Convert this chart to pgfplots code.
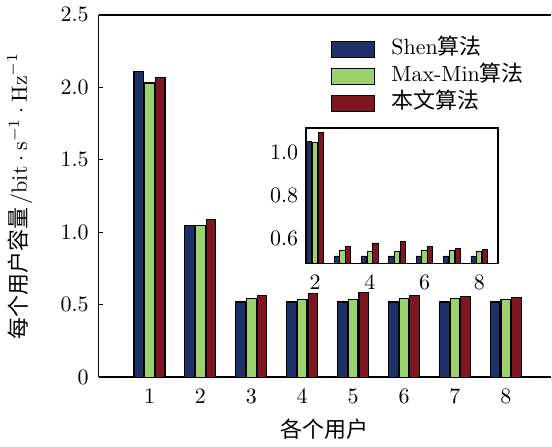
\documentclass[border=0pt]{standalone}
\usepackage{pgfplots}
\pgfplotsset{compat=1.18}
\usepackage{fontspec}
\newfontfamily\cjk{Noto Sans CJK SC}
\definecolor{cblue}{RGB}{30,48,104}
\definecolor{cgreen}{RGB}{156,210,110}
\definecolor{cred}{RGB}{125,22,32}
\begin{document}
\begin{tikzpicture}
\begin{axis}[
  name=main,
  scale only axis,
  width=206pt, height=165pt,
  xmin=0, xmax=8.89, ymin=0, ymax=2.5,
  axis x line=box, axis y line=left,
  axis line style={-, line width=0.8pt},
  tick align=inside,
  xtick={1,...,8},
  ytick={0,0.5,1,1.5,2,2.5},
  yticklabels={0,0.5,1.0,1.5,2.0,2.5},
  yticklabel style={xshift=-1pt},
  xtick style={draw=none},
  ytick style={black, line width=0.5pt},
  major tick length=2pt,
  ylabel={{\cjk 每个用户容量}\,$/\mathrm{bit}\cdot\mathrm{s}^{-1}\cdot\mathrm{Hz}^{-1}$},
  ylabel style={yshift=6pt},
  xlabel={{\cjk 各个用户}},
  ybar, bar width=0.19,
  every axis plot/.append style={draw=black, line width=0.5pt},
  legend style={at={(axis cs:4.55,2.36)}, anchor=north west, draw=none, fill=none, inner sep=0pt, row sep=0pt,
    nodes={text height=7.5pt, text depth=2.2pt, inner ysep=1.3pt, inner xsep=1pt}},
  legend cell align=left,
  legend image code/.code={\draw[#1] (0cm,-0.128cm) rectangle (0.7cm,0.128cm); \path (0.92cm,0cm);},
]
\addplot[fill=cblue, bar shift=-0.21] coordinates {(1,2.108) (2,1.05) (3,0.52) (4,0.52) (5,0.52) (6,0.52) (7,0.52) (8,0.52)};
\addplot[fill=cgreen, bar shift=0] coordinates {(1,2.03) (2,1.045) (3,0.545) (4,0.54) (5,0.54) (6,0.545) (7,0.545) (8,0.54)};
\addplot[fill=cred, bar shift=0.21] coordinates {(1,2.067) (2,1.09) (3,0.565) (4,0.58) (5,0.585) (6,0.565) (7,0.555) (8,0.55)};
\legend{Shen{\cjk 算法}, Max-Min{\cjk 算法}, {\cjk 本文算法}}
\end{axis}
\begin{axis}[
  at={(main.south west)}, shift={(94.4pt,51.8pt)}, anchor=south west,
  scale only axis,
  width=87.5pt, height=61.6pt,
  xmin=1.67, xmax=8.69, ymin=0.485, ymax=1.11,
  axis background/.style={fill=white},
  axis line style={line width=0.8pt},
  tick align=inside,
  xtick={2,4,6,8},
  ytick={0.6,0.8,1.0},
  yticklabels={0.6,0.8,1.0},
  major tick length=2pt,
  xtick style={draw=none},
  ytick style={draw=none},
  ybar, bar width=0.19,
  every axis plot/.append style={draw=black, line width=0.4pt},
]
\addplot[fill=cblue, bar shift=-0.21] coordinates {(2,1.05) (3,0.52) (4,0.52) (5,0.52) (6,0.52) (7,0.52) (8,0.52)};
\addplot[fill=cgreen, bar shift=0] coordinates {(2,1.045) (3,0.545) (4,0.54) (5,0.54) (6,0.545) (7,0.545) (8,0.54)};
\addplot[fill=cred, bar shift=0.21] coordinates {(2,1.09) (3,0.565) (4,0.58) (5,0.585) (6,0.565) (7,0.555) (8,0.55)};
\end{axis}
\end{tikzpicture}
\end{document}
